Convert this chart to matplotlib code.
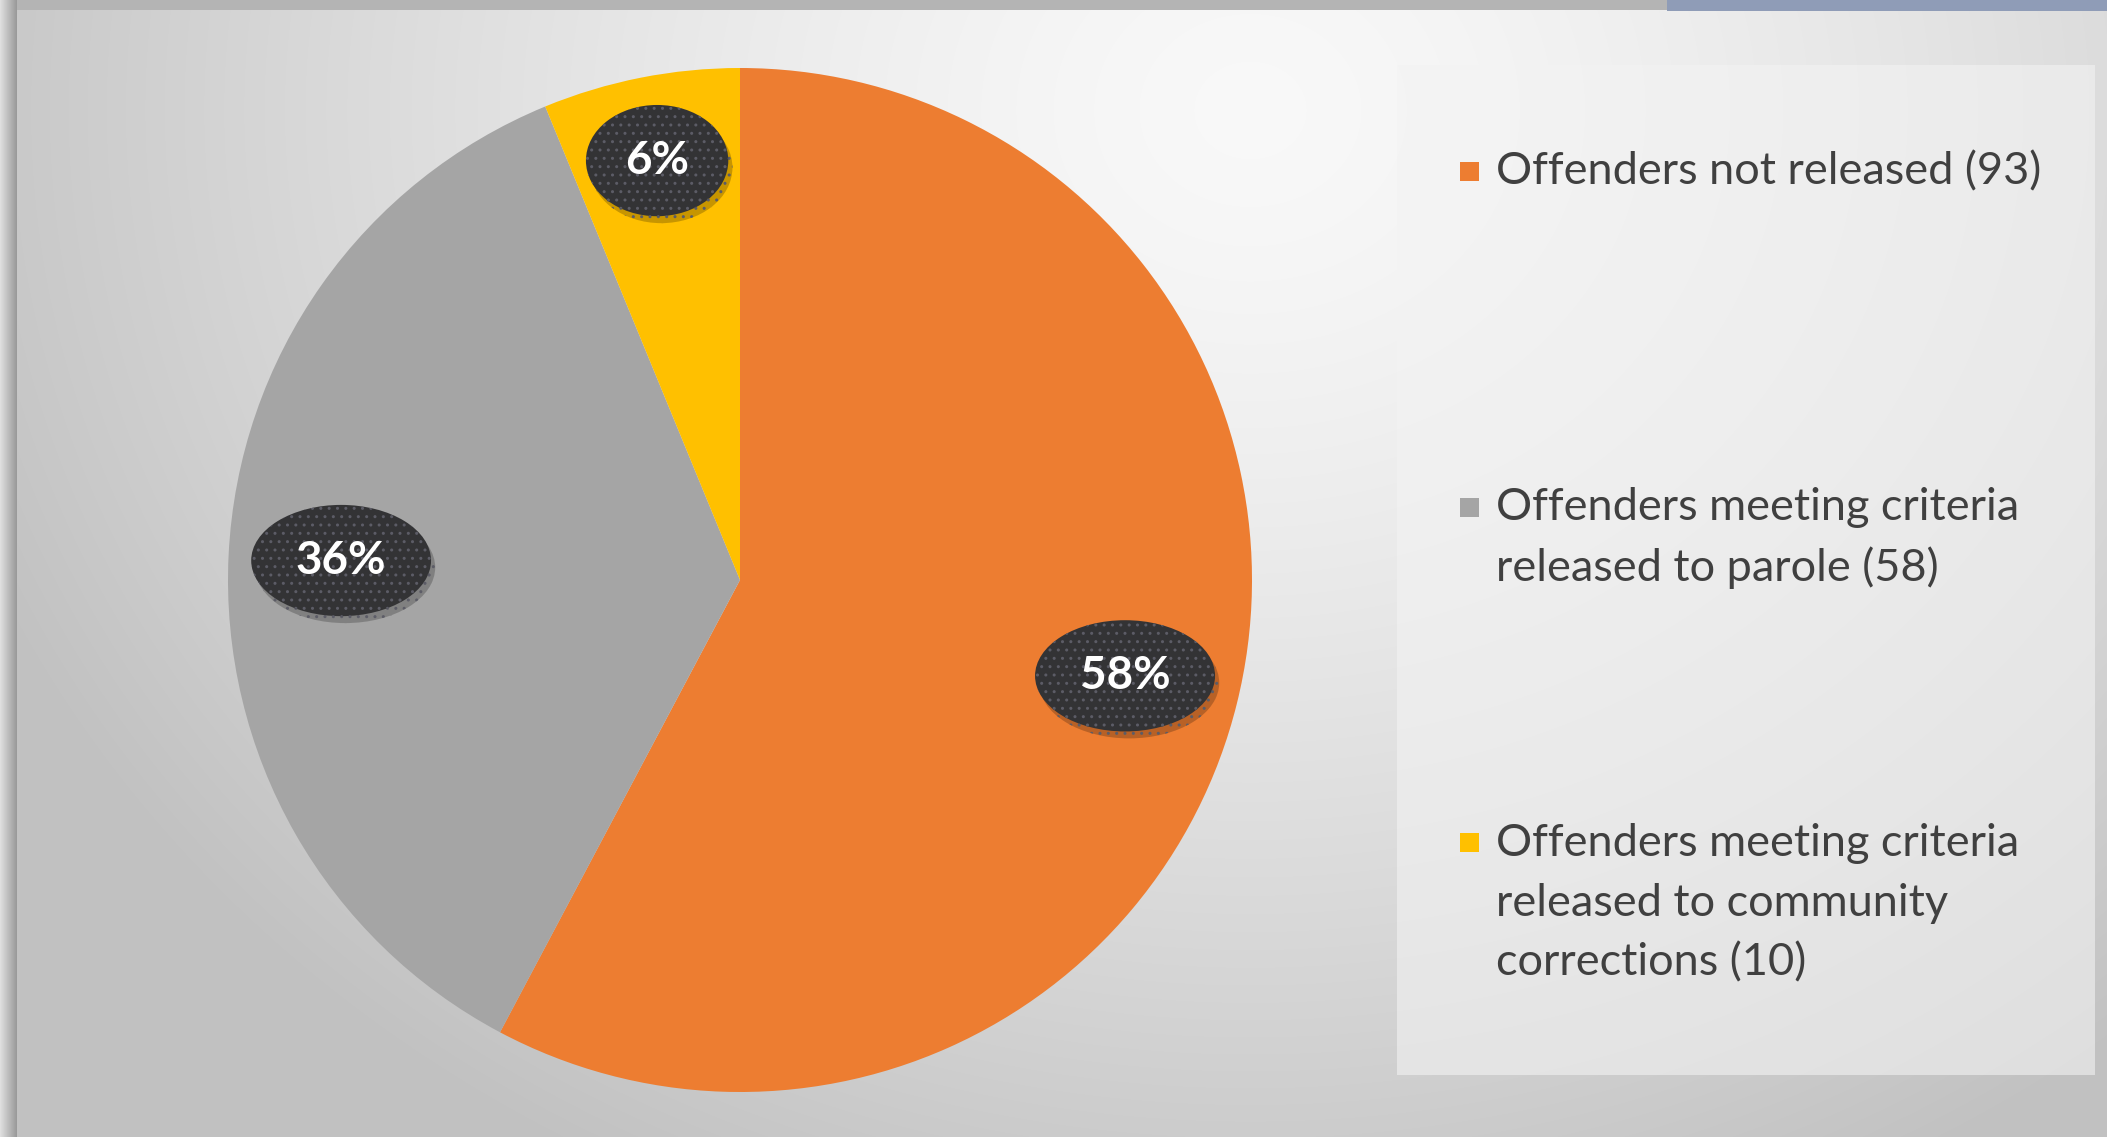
import numpy as np
import matplotlib
matplotlib.use("Agg")
import matplotlib.pyplot as plt
from matplotlib import patheffects
from matplotlib.patches import Rectangle

categories = [
    "Offenders not released (93)",
    "Offenders meeting criteria\nreleased to parole (58)",
    "Offenders meeting criteria\nreleased to community\ncorrections (10)",
]
counts = [93, 58, 10]
colors = ["#ED7D31", "#A5A5A5", "#FFC000"]

W, H = 2107, 1137
DPI = 100
FONT = "Lato"

plt.rcParams["hatch.linewidth"] = 1.0

fig = plt.figure(figsize=(W / DPI, H / DPI), dpi=DPI)
fig.patch.set_facecolor("#b8b8b8")

# backdrop in pixel coordinates (y down)
bg = fig.add_axes([0, 0, 1, 1], zorder=0)
bg.set_xlim(0, W)
bg.set_ylim(H, 0)
bg.axis("off")

x0, y0 = 17, 10
yy, xx = np.mgrid[y0:H, x0:W]
d = np.hypot(xx - 1250, (yy - 110) * 1.15)
shade = np.clip(0.975 - 0.2 * (d / 1300) ** 1.4, 0.76, 0.975)
bg.imshow(np.dstack([shade] * 3), extent=(x0, W, H, y0), aspect="auto",
          interpolation="bilinear")

# left edge shadow and top strips
edge = np.linspace(0.88, 0.6, 40).reshape(1, -1)
bg.imshow(np.dstack([edge] * 3), extent=(0, x0, H, 0), aspect="auto")
bg.add_patch(Rectangle((x0, 0), W - x0, y0, color="#b4b4b4", lw=0))
bg.add_patch(Rectangle((1667, 0), W - 1667, y0 + 1, color="#8f9cb7", lw=0))

# legend panel
bg.add_patch(Rectangle((1397, 65), W - 12 - 1397, 1075 - 65,
                       facecolor="#f3f3f3", alpha=0.6, lw=0))

# pie
cx, cy, r = 740, 580, 512
ax = fig.add_axes([(cx - r) / W, (H - cy - r) / H, 2 * r / W, 2 * r / H], zorder=2)
wedges, _ = ax.pie(counts, colors=colors, startangle=90, counterclock=False,
                   radius=1, wedgeprops=dict(linewidth=0))
ax.set_xlim(-1, 1)
ax.set_ylim(-1, 1)
ax.set_aspect("equal")
ax.axis("off")

total = sum(counts)
label_dist = [0.775, 0.78, 0.835]
for w, c, dist in zip(wedges, counts, label_dist):
    mid = np.deg2rad((w.theta1 + w.theta2) / 2)
    t = ax.text(dist * np.cos(mid), dist * np.sin(mid), f"{round(100 * c / total)}%",
                ha="center", va="center", color="white", fontsize=33,
                fontweight="bold", family=FONT, zorder=5,
                bbox=dict(boxstyle="ellipse,pad=0.4", facecolor="#333335",
                          edgecolor="#5c5c66", linewidth=0, hatch=".."))
    t.get_bbox_patch().set_path_effects([
        patheffects.SimplePatchShadow(offset=(3, -5), shadow_rgbFace="black", alpha=0.22),
        patheffects.Normal(),
    ])

# legend entries, evenly spaced down the panel
entry_y = [172, 538, 903]
pitch = 60
for label, color, yc in zip(categories, colors, entry_y):
    lines = label.split("\n")
    top = yc - pitch * (len(lines) - 1) / 2
    bg.add_patch(Rectangle((1460, top - 10), 19, 19, color=color, lw=0))
    for i, line in enumerate(lines):
        bg.text(1496, top + i * pitch, line, ha="left", va="center",
                fontsize=32.5, color="#404040", family=FONT)

fig.savefig("out.png", dpi=DPI)
